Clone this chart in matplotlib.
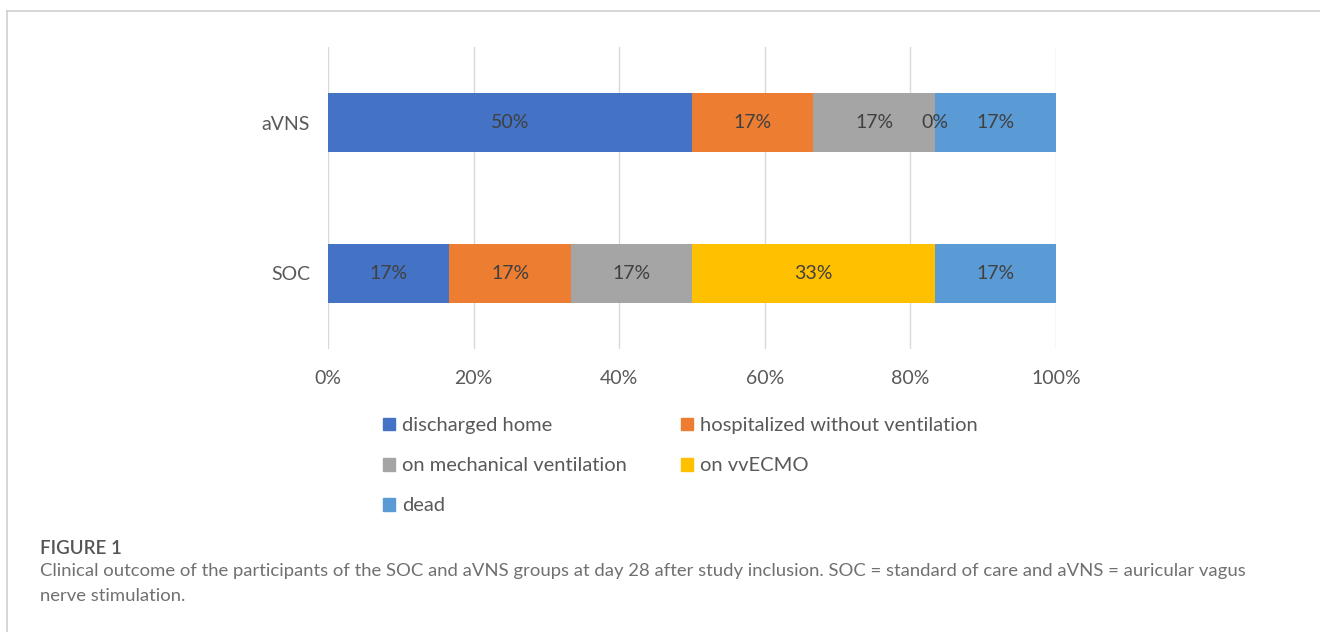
import numpy as np
import matplotlib.pyplot as plt
from matplotlib.patches import Rectangle
from matplotlib.lines import Line2D
from matplotlib.ticker import FuncFormatter

plt.rcParams['font.family'] = ['Lato', 'DejaVu Sans']

# data (percent of participants at day 28)
groups = ['SOC', 'aVNS']
outcomes = ['discharged home', 'hospitalized without ventilation',
            'on mechanical ventilation', 'on vvECMO', 'dead']
soc = [16.67, 16.67, 16.67, 33.33, 16.67]
avns = [50.0, 16.67, 16.67, 0.0, 16.67]
colors = ['#4472C4', '#ED7D31', '#A5A5A5', '#FFC000', '#5B9BD5']
xticks = [0, 20, 40, 60, 80, 100]

txt = '#595959'

fig = plt.figure(figsize=(13.2, 6.32), dpi=100)
ax = fig.add_axes([328/1320, 1-349/632, (1056-328)/1320, 302/632])

vals = np.array([soc, avns])
ypos = np.arange(len(groups))
left = np.zeros(len(groups))
handles = []
for i, name in enumerate(outcomes):
    bars = ax.barh(ypos, vals[:, i], left=left, height=0.395,
                   color=colors[i], zorder=3)
    for j, b in enumerate(bars):
        ax.text(left[j] + vals[j, i] / 2, ypos[j], '%d%%' % round(vals[j, i]),
                ha='center', va='center', fontsize=14, color='#404040', zorder=4)
    left = left + vals[:, i]
    handles.append(Rectangle((0, 0), 1, 1, color=colors[i]))

ax.set_xlim(0, 100)
ax.set_ylim(-0.5, 1.5)
ax.set_xticks(xticks)
ax.xaxis.set_major_formatter(FuncFormatter(lambda v, p: '%d%%' % v))
ax.set_yticks(ypos)
ax.set_yticklabels(groups)
ax.tick_params(length=0, labelsize=14, colors=txt)
ax.tick_params(axis='x', pad=15)
ax.tick_params(axis='y', pad=13)
ax.grid(axis='x', color='#d9d9d9', lw=1, zorder=0)
for s in ax.spines.values():
    s.set_visible(False)

# legend, row-major order like the original
order = [0, 2, 4, 1, 3]
fig.legend([handles[k] for k in order], [outcomes[k] for k in order],
           loc='upper left', bbox_to_anchor=(365/1320, 1-399/632), ncol=2,
           frameon=False, fontsize=14.5, labelcolor=txt,
           handlelength=0.6, handleheight=0.6, handletextpad=0.35,
           columnspacing=2.65, labelspacing=1.15)

# frame lines
fig.add_artist(Line2D([7/1320, 1], [1-11/632, 1-11/632], color='#d0d0d0', lw=1.2))
fig.add_artist(Line2D([7/1320, 7/1320], [0, 1-11/632], color='#d0d0d0', lw=1.2))

fig.text(40/1320, 1-549/632, 'FIGURE 1', fontsize=13.5, color='#555555',
         fontweight='semibold', va='center')
fig.text(40/1320, 1-571/632,
         'Clinical outcome of the participants of the SOC and aVNS groups at day 28 after study inclusion. '
         'SOC = standard of care and aVNS = auricular vagus',
         fontsize=13.3, color='#707070', va='center')
fig.text(40/1320, 1-596/632, 'nerve stimulation.', fontsize=13.3, color='#707070', va='center')

fig.savefig('out.png', dpi=100)
